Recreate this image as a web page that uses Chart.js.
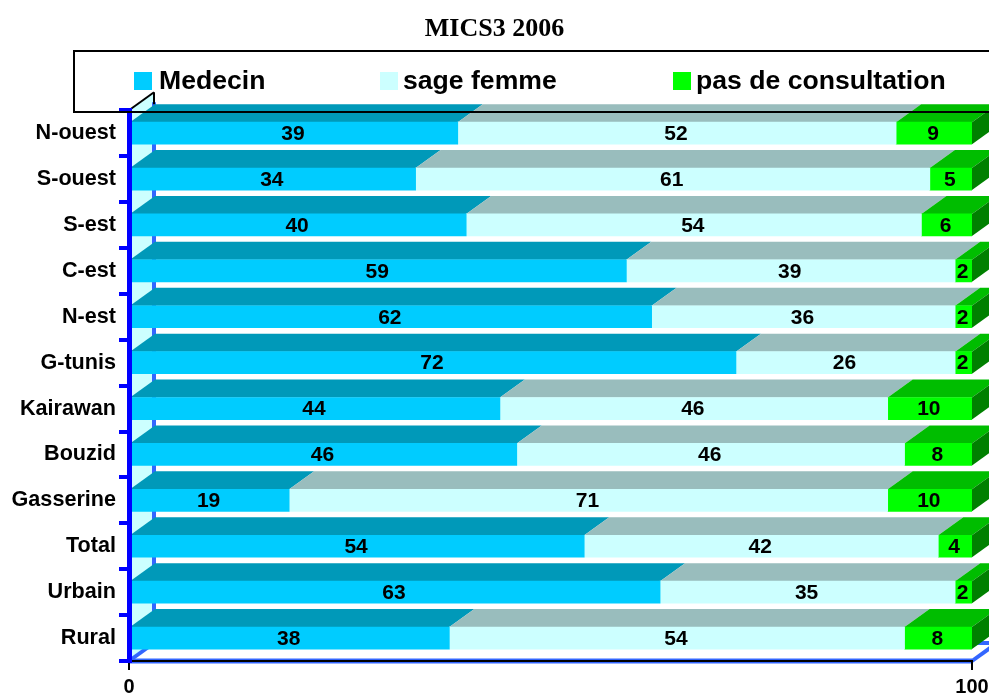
<!DOCTYPE html>
<html>
<head>
<meta charset="utf-8">
<title>MICS3 2006</title>
<script src="https://cdn.jsdelivr.net/npm/chart.js@4/dist/chart.umd.min.js"></script>
<style>
  body { margin: 0; background: #fff; }
  canvas { display: block; }
</style>
</head>
<body>
<canvas id="chart" width="989" height="695"></canvas>
<script>
const categories = ['N-ouest', 'S-ouest', 'S-est', 'C-est', 'N-est', 'G-tunis', 'Kairawan', 'Bouzid', 'Gasserine', 'Total', 'Urbain', 'Rural'];
const medecin = [39, 34, 40, 59, 62, 72, 44, 46, 19, 54, 63, 38];
const sageFemme = [52, 61, 54, 39, 36, 26, 46, 46, 71, 42, 35, 54];
const pasConsultation = [9, 5, 6, 2, 2, 2, 10, 8, 10, 4, 2, 8];

const frontColors = ['#00ccff', '#ccffff', '#00ff00'];
const topColors = ['#0099b9', '#99bdbd', '#00bd00'];
const sideColor = '#008000';
const legendX = [134, 380, 673];
const legendTextX = [159, 403, 696];

// depth of the fake 3D effect, in px
const DX = 25;
const DY = 18;

function poly(ctx, pts, fill) {
  ctx.beginPath();
  ctx.moveTo(pts[0][0], pts[0][1]);
  pts.slice(1).forEach(p => ctx.lineTo(p[0], p[1]));
  ctx.closePath();
  ctx.fillStyle = fill;
  ctx.fill();
}

function line(ctx, x1, y1, x2, y2, color, width) {
  ctx.beginPath();
  ctx.moveTo(x1, y1);
  ctx.lineTo(x2, y2);
  ctx.strokeStyle = color;
  ctx.lineWidth = width;
  ctx.stroke();
}

const wallPlugin = {
  id: 'wall',
  beforeDraw(chart) {
    const ctx = chart.ctx;
    const a = chart.chartArea;
    ctx.save();
    poly(ctx, [[a.left, a.top], [a.left + DX, a.top - DY], [a.left + DX, a.bottom - DY], [a.left, a.bottom]], '#ccffff');
    line(ctx, a.left + DX, a.top - DY + 10, a.left + DX, a.bottom - DY, '#3366ff', 4);
    line(ctx, a.left + DX, a.bottom - DY, a.right + DX, a.bottom - DY, '#3366ff', 4);
    line(ctx, a.left, a.bottom, a.left + DX, a.bottom - DY, '#3366ff', 4);
    line(ctx, a.right, a.bottom, a.right + DX, a.bottom - DY, '#3366ff', 4);
    line(ctx, a.left, a.bottom, a.right, a.bottom, '#3366ff', 5);
    line(ctx, a.left, a.top, a.left + DX, a.top - DY, '#000', 2);
    line(ctx, a.left + DX, a.top - DY, a.left + DX, a.top - DY + 12, '#000', 2);
    ctx.restore();
  }
};

const facesPlugin = {
  id: 'faces',
  beforeDatasetsDraw(chart) {
    const ctx = chart.ctx;
    ctx.save();
    chart.data.datasets.forEach((ds, i) => {
      chart.getDatasetMeta(i).data.forEach(bar => {
        const left = bar.base;
        const right = bar.x;
        const top = bar.y - bar.height / 2;
        poly(ctx, [[left, top], [left + DX, top - DY], [right + DX, top - DY], [right, top]], topColors[i]);
        if (i === chart.data.datasets.length - 1) {
          poly(ctx, [[right, top], [right + DX, top - DY], [right + DX, top - DY + bar.height], [right, top + bar.height]], sideColor);
        }
      });
    });
    ctx.restore();
  },
  afterDatasetsDraw(chart) {
    const ctx = chart.ctx;
    ctx.save();
    ctx.font = 'bold 21px "Liberation Sans"';
    ctx.fillStyle = '#000';
    ctx.textAlign = 'center';
    ctx.textBaseline = 'middle';
    chart.data.datasets.forEach((ds, i) => {
      chart.getDatasetMeta(i).data.forEach((bar, j) => {
        ctx.fillText(ds.data[j], (bar.base + bar.x) / 2 - 1, bar.y + 1);
      });
    });
    ctx.restore();
  }
};

const legendPlugin = {
  id: 'boxLegend',
  afterDraw(chart) {
    const ctx = chart.ctx;
    ctx.save();
    ctx.strokeStyle = '#000';
    ctx.lineWidth = 2;
    ctx.strokeRect(74, 51, 930, 61);
    ctx.font = 'bold 26.6px "Liberation Sans"';
    ctx.textAlign = 'left';
    ctx.textBaseline = 'middle';
    chart.data.datasets.forEach((ds, i) => {
      ctx.fillStyle = frontColors[i];
      ctx.fillRect(legendX[i], 72, 18, 18);
      ctx.fillStyle = '#000';
      ctx.fillText(ds.label, legendTextX[i], 82);
    });
    ctx.restore();
  }
};

new Chart(document.getElementById('chart'), {
  type: 'bar',
  data: {
    labels: categories,
    datasets: [
      { label: 'Medecin', data: medecin, backgroundColor: frontColors[0] },
      { label: 'sage femme', data: sageFemme, backgroundColor: frontColors[1] },
      { label: 'pas de consultation', data: pasConsultation, backgroundColor: frontColors[2] }
    ]
  },
  options: {
    indexAxis: 'y',
    responsive: false,
    animation: false,
    datasets: { bar: { barThickness: 22 } },
    plugins: {
      legend: { display: false },
      tooltip: { enabled: false },
      title: {
        display: true,
        text: 'MICS3 2006',
        color: '#000',
        font: { family: '"Liberation Serif"', size: 26, weight: 'bold' },
        padding: { top: 14, bottom: 65 }
      }
    },
    scales: {
      x: {
        stacked: true,
        min: 0,
        max: 100,
        afterFit: s => { s.height = 34; s.paddingRight = 17; },
        ticks: {
          stepSize: 100,
          padding: 5,
          color: '#000',
          font: { family: '"Liberation Sans"', size: 20, weight: 'bold' }
        },
        grid: { drawOnChartArea: false, color: '#000', lineWidth: 2, tickLength: 9 },
        border: { color: '#000', width: 2 }
      },
      y: {
        stacked: true,
        afterFit: s => { s.width = 129; },
        ticks: {
          padding: 3,
          color: '#000',
          font: { family: '"Liberation Sans"', size: 21.6, weight: 'bold' }
        },
        grid: { drawOnChartArea: false, color: '#0000ff', lineWidth: 4, tickLength: 10 },
        border: { color: '#0000ff', width: 5, z: 1 }
      }
    }
  },
  plugins: [wallPlugin, facesPlugin, legendPlugin]
});
</script>
</body>
</html>
